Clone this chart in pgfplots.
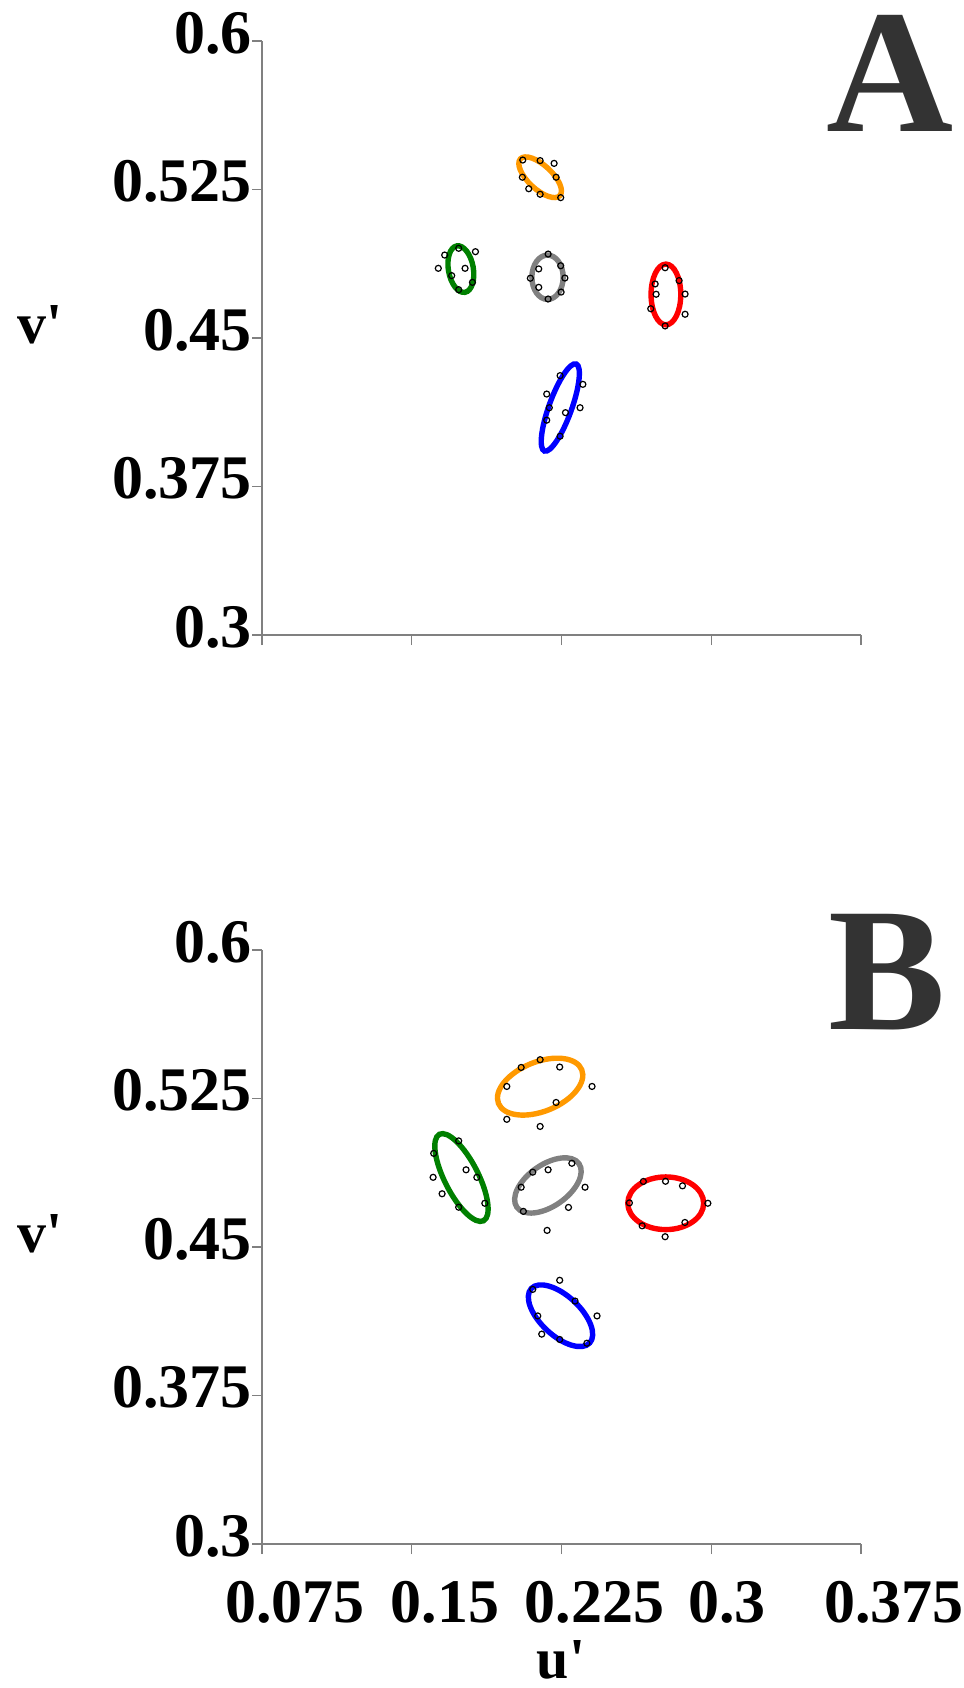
\documentclass[border=0pt]{standalone}
\usepackage{fontspec}
\setmainfont{Liberation Serif}
\usepackage{pgfplots}
\pgfplotsset{compat=1.18}
\definecolor{cOr}{RGB}{255,153,0}
\definecolor{cGr}{RGB}{0,128,0}
\definecolor{cGy}{RGB}{128,128,128}
\definecolor{cRd}{RGB}{255,0,0}
\definecolor{cBl}{RGB}{0,0,255}
\definecolor{lab}{RGB}{51,51,51}
\newcommand{\elli}[6]{\draw[#1, line width=2.7pt, rotate around={#4:(axis cs:#2,#3)}] (axis cs:#2,#3) ellipse [x radius=#5, y radius=#6];}
\pgfplotsset{
  cie/.style={scale only axis, width=299.5pt, height=297pt,
    xmin=0.075, xmax=0.375, ymin=0.3, ymax=0.6,
    axis lines=left,
    axis line style={-, draw=gray, line width=0.7pt},
    tick style={draw=gray, line width=0.7pt},
    tick align=outside, major tick length=5pt,
    xtick={0.075,0.15,0.225,0.3,0.375},
    ytick={0.3,0.375,0.45,0.525,0.6},
    yticklabels={0.3,0.375,0.45,0.525,0.6},
    ticklabel style={font=\fontsize{31}{33}\selectfont\bfseries},
    yticklabel style={xshift=3.5pt, yshift=4pt},
    xticklabel style={xshift=16.5pt, yshift=-10pt},
    /pgf/number format/assume math mode=true,
    clip=false},
  pts/.style={only marks, mark=o, mark size=1.5pt, black, mark options={line width=0.6pt}}
}
\begin{document}
\begin{tikzpicture}
\path[use as bounding box] (0,0) rectangle (482pt,-844pt);
% Panel A
\begin{axis}[cie, at={(131pt,-317.5pt)}, anchor=south west, xticklabels={}]
\elli{cOr}{0.2143}{0.5312}{-43}{0.0135}{0.006}
\elli{cGr}{0.1746}{0.4848}{100}{0.0118}{0.0063}
\elli{cGy}{0.2180}{0.4807}{90}{0.0111}{0.0079}
\elli{cRd}{0.2773}{0.4720}{90}{0.0152}{0.0075}
\elli{cBl}{0.2244}{0.4149}{70}{0.0232}{0.0057}
\addplot[pts] coordinates {(0.2056,0.5399) (0.2143,0.5396) (0.2213,0.5382) (0.2054,0.5312) (0.2223,0.5312) (0.2086,0.5254) (0.2143,0.5226) (0.2246,0.5209)};
\addplot[pts] coordinates {(0.1735,0.4953) (0.1665,0.4919) (0.1819,0.4936) (0.1633,0.4852) (0.1767,0.4852) (0.1700,0.4815) (0.1804,0.4781) (0.1735,0.4744)};
\addplot[pts] coordinates {(0.2183,0.4924) (0.2136,0.4849) (0.2246,0.4865) (0.2094,0.4802) (0.2267,0.4803) (0.2136,0.4756) (0.2248,0.4732) (0.2183,0.4697)};
\addplot[pts] coordinates {(0.2769,0.4855) (0.2839,0.4790) (0.2719,0.4773) (0.2724,0.4721) (0.2869,0.4722) (0.2697,0.4648) (0.2869,0.4620) (0.2769,0.4561)};
\addplot[pts] coordinates {(0.2243,0.4310) (0.2357,0.4266) (0.2176,0.4217) (0.2189,0.4148) (0.2270,0.4123) (0.2343,0.4148) (0.2176,0.4085) (0.2243,0.4004)};
\end{axis}
% Panel B
\begin{axis}[cie, at={(131pt,-772pt)}, anchor=south west, xticklabels={0.075,0.15,0.225,0.3\kern17pt,0.375}]
\elli{cOr}{0.2143}{0.5310}{22}{0.0225}{0.0125}
\elli{cGr}{0.1749}{0.4851}{117}{0.0243}{0.0085}
\elli{cGy}{0.2182}{0.4811}{35}{0.019}{0.0105}
\elli{cRd}{0.2772}{0.4721}{0}{0.019}{0.0133}
\elli{cBl}{0.2245}{0.4153}{-43}{0.020}{0.010}
\addplot[pts] coordinates {(0.2143,0.5446) (0.2048,0.5407) (0.2241,0.5409) (0.1976,0.5311) (0.2403,0.5311) (0.2223,0.5230) (0.1976,0.5145) (0.2143,0.5109)};
\addplot[pts] coordinates {(0.1735,0.5036) (0.1610,0.4973) (0.1772,0.4890) (0.1826,0.4852) (0.1607,0.4852) (0.1652,0.4769) (0.1735,0.4701) (0.1866,0.4721)};
\addplot[pts] coordinates {(0.2302,0.4923) (0.2106,0.4878) (0.2183,0.4890) (0.2048,0.4802) (0.2368,0.4802) (0.2285,0.4700) (0.2059,0.4680) (0.2178,0.4584)};
\addplot[pts] coordinates {(0.2660,0.4831) (0.2771,0.4832) (0.2856,0.4809) (0.2590,0.4723) (0.2983,0.4721) (0.2654,0.4607) (0.2868,0.4624) (0.2769,0.4552)};
\addplot[pts] coordinates {(0.2241,0.4332) (0.2106,0.4286) (0.2318,0.4227) (0.2131,0.4152) (0.2428,0.4152) (0.2151,0.4060) (0.2241,0.4033) (0.2377,0.4014)};
\end{axis}
% labels
\node[anchor=base west, inner sep=0pt, font=\fontsize{29}{31}\selectfont\bfseries] at (8.5pt,-171.5pt) {v\textquotesingle};
\node[anchor=base west, inner sep=0pt, font=\fontsize{29}{31}\selectfont\bfseries] at (8.5pt,-626.25pt) {v\textquotesingle};
\node[anchor=base, inner sep=0pt, font=\fontsize{29}{31}\selectfont\bfseries] at (280.5pt,-839pt) {u\textquotesingle};
\node[anchor=base west, inner sep=0pt, text=lab, font=\fontsize{88}{90}\selectfont\bfseries] at (413pt,-65.5pt) {A};
\node[anchor=base west, inner sep=0pt, text=lab, font=\fontsize{88}{90}\selectfont\bfseries] at (414pt,-514.5pt) {B};
\end{tikzpicture}
\end{document}
